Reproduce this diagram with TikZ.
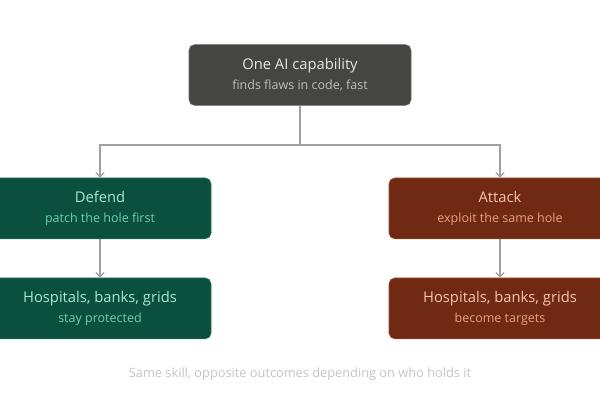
\documentclass[tikz,border=0pt]{standalone}
\usepackage{fontspec}
\setmainfont{Open Sans}
\usepackage{tikz}
\usetikzlibrary{positioning, arrows.meta}
\usepackage{xcolor}
\definecolor{coregray}{RGB}{69, 69, 65}
\definecolor{coretext}{RGB}{232, 232, 224}
\definecolor{coresub}{RGB}{192, 192, 184}
\definecolor{defgreen}{RGB}{11, 79, 62}
\definecolor{defedge}{RGB}{40, 120, 95}
\definecolor{deftext}{RGB}{168, 232, 208}
\definecolor{defsub}{RGB}{111, 207, 168}
\definecolor{atkred}{RGB}{112, 42, 20}
\definecolor{atkedge}{RGB}{160, 80, 50}
\definecolor{atktext}{RGB}{248, 196, 172}
\definecolor{atksub}{RGB}{232, 160, 128}
\definecolor{linkgray}{RGB}{160, 160, 160}
\definecolor{notegray}{RGB}{196, 196, 196}

\begin{document}
\begin{tikzpicture}[
    box/.style={rectangle, rounded corners=4pt, minimum width=5.55cm, minimum height=1.52cm, align=center, line width=0.4pt},
    corebox/.style={box, fill=coregray, draw=coregray!80!white},
    defbox/.style={box, fill=defgreen, draw=defedge},
    atkbox/.style={box, fill=atkred, draw=atkedge},
    link/.style={draw=linkgray, line width=0.9pt},
    arrow/.style={link, -{Straight Barb[length=3pt, width=6pt]}}
]
    \useasboundingbox (0,0) rectangle (15,10);

    \node[corebox] (core) at (7.5,8.125) {\fontsize{10.5}{13}\selectfont\color{coretext}One AI capability\\[2pt]\fontsize{8.9}{11}\selectfont\color{coresub}finds flaws in code, fast};

    \node[defbox] (defend) at (2.5,4.79) {\fontsize{10.5}{13}\selectfont\color{deftext}Defend\\[2pt]\fontsize{8.9}{11}\selectfont\color{defsub}patch the hole first};
    \node[atkbox] (attack) at (12.5,4.79) {\fontsize{10.5}{13}\selectfont\color{atktext}Attack\\[2pt]\fontsize{8.9}{11}\selectfont\color{atksub}exploit the same hole};

    \node[defbox] (safe) at (2.5,2.29) {\fontsize{10.5}{13}\selectfont\color{deftext}Hospitals, banks, grids\\[2pt]\fontsize{8.9}{11}\selectfont\color{defsub}stay protected};
    \node[atkbox] (prey) at (12.5,2.29) {\fontsize{10.5}{13}\selectfont\color{atktext}Hospitals, banks, grids\\[2pt]\fontsize{8.9}{11}\selectfont\color{atksub}become targets};

    \coordinate (split) at (7.5,6.375);
    \draw[link] (core) -- (split);
    \draw[arrow] (split) -| (defend);
    \draw[arrow] (split) -| (attack);
    \draw[arrow] (defend) -- (safe);
    \draw[arrow] (attack) -- (prey);

    \node[font=\fontsize{9.1}{11}\selectfont, text=notegray] (note) at (7.5,0.65) {Same skill, opposite outcomes depending on who holds it};
\end{tikzpicture}
\end{document}
